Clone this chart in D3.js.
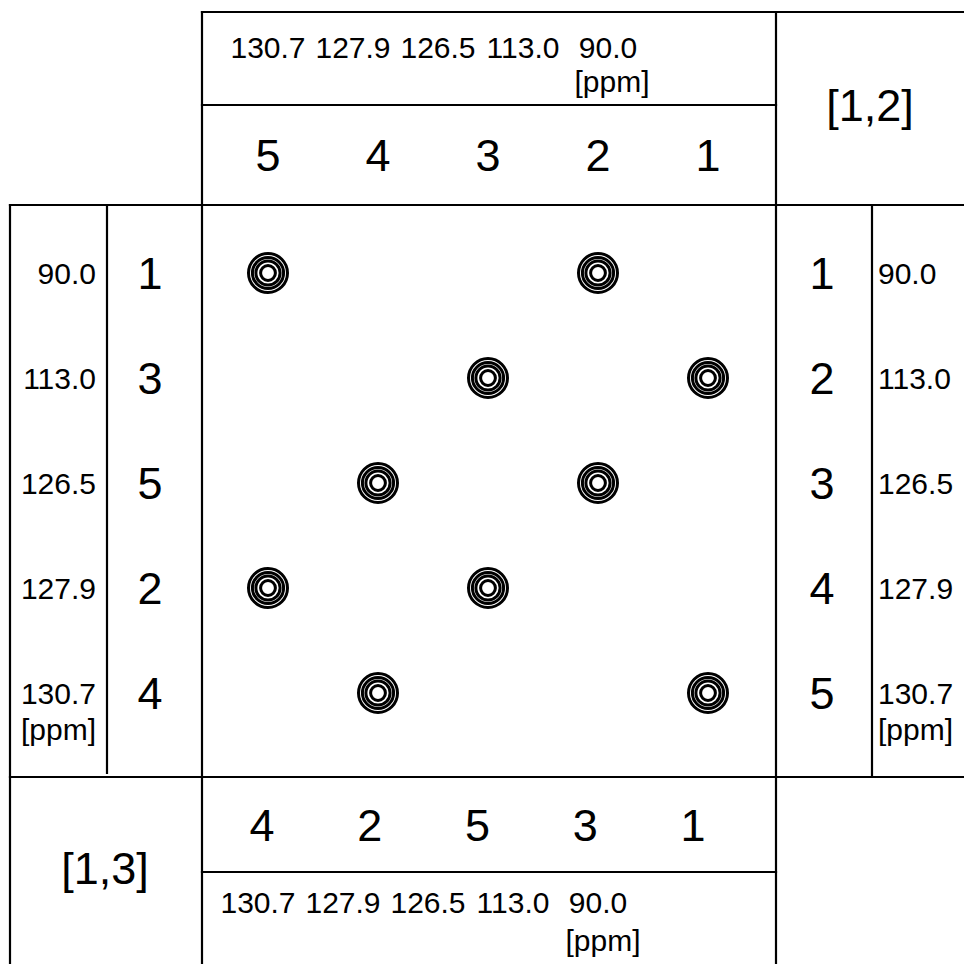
<!DOCTYPE html>
<html>
<head>
<meta charset="utf-8">
<script src="https://cdn.jsdelivr.net/npm/d3@7"></script>
<style>
  html, body { margin: 0; padding: 0; background: #fff; }
  svg { display: block; }
  text { font-family: "Liberation Sans", Arial, Helvetica, sans-serif; fill: #000; }
</style>
</head>
<body>
<svg id="chart" width="964" height="964"></svg>
<script>
// Atom numbering along each axis of the two 2D spectra
const topAtoms    = [5, 4, 3, 2, 1];          // F2 of [1,2]
const rightAtoms  = [1, 2, 3, 4, 5];          // F1 of [1,2]
const leftAtoms   = [1, 3, 5, 2, 4];          // F1 of [1,3]
const bottomAtoms = [4, 2, 5, 3, 1];          // F2 of [1,3]

// Chemical shift tick labels (ppm)
const topShifts    = ["130.7", "127.9", "126.5", "113.0", "90.0"];
const bottomShifts = ["130.7", "127.9", "126.5", "113.0", "90.0"];
const sideShifts   = ["90.0", "113.0", "126.5", "127.9", "130.7"];

// Cross peaks of the [1,2] spectrum: [top atom, right atom]
const peaks = [
  [5, 1], [2, 1],
  [3, 2], [1, 2],
  [4, 3], [2, 3],
  [5, 4], [3, 4],
  [4, 5], [1, 5]
];

// Contour levels drawn for every peak (relative radius)
const contourLevels = [1.0, 0.8, 0.62, 0.38];

const svg = d3.select("#chart");

// Frame geometry
const L0 = 10, L1 = 107, P0 = 202, P1 = 776, R1 = 872, RW = 964;
const T0 = 12, T1 = 105, T2 = 205, B0 = 777, B1 = 872, BH = 964;

// Scales
const colIdx = d3.range(5);
const x = d3.scalePoint().domain(colIdx).range([268, 708]);
const xBottom = d3.scalePoint().domain(colIdx).range([262, 693]);
const xTopPpm = d3.scalePoint().domain(colIdx).range([268, 608]);
const xBotPpm = d3.scalePoint().domain(colIdx).range([258, 598]);
const y = d3.scalePoint().domain(colIdx).range([273, 693]);
const r = d3.scaleLinear().domain([0, 1]).range([0, 19.5]);

// Frame lines
const lines = [
  [P0, T0, RW, T0],       // top edge
  [P0, T0, P0, BH],       // left of main panel
  [P1, T0, P1, BH],       // right of main panel
  [P0, T1, P1, T1],       // header divider
  [L0, T2, RW, T2],       // header bottom
  [L0, T2, L0, BH],       // outer left
  [L1, T2, L1, B0 - 4],   // left divider
  [R1, T2, R1, B0 - 1],   // right divider
  [L0, B0, RW, B0],       // bottom of main panel
  [P0, B1, P1, B1]        // footer divider
];
svg.append("g").selectAll("line").data(lines).join("line")
  .attr("x1", d => d[0]).attr("y1", d => d[1])
  .attr("x2", d => d[2]).attr("y2", d => d[3])
  .attr("stroke", "#000").attr("stroke-width", 2.2)
  .attr("stroke-linecap", "square");

const big = 45, small = 30;

// Top header
svg.append("g").selectAll("text").data(topShifts).join("text")
  .attr("x", (d, i) => xTopPpm(i)).attr("y", 47).attr("dy", "0.36em")
  .attr("text-anchor", "middle").attr("font-size", small).text(d => d);
svg.append("text").attr("x", 612).attr("y", 81).attr("dy", "0.36em")
  .attr("text-anchor", "middle").attr("font-size", small).text("[ppm]");
svg.append("g").selectAll("text").data(topAtoms).join("text")
  .attr("x", (d, i) => x(i)).attr("y", 155).attr("dy", "0.36em")
  .attr("text-anchor", "middle").attr("font-size", big).text(d => d);

// Left side ([1,3] F1)
svg.append("g").selectAll("text").data(sideShifts).join("text")
  .attr("x", 96).attr("y", (d, i) => y(i)).attr("dy", "0.36em")
  .attr("text-anchor", "end").attr("font-size", small).text(d => d);
svg.append("text").attr("x", 96).attr("y", 729).attr("dy", "0.36em")
  .attr("text-anchor", "end").attr("font-size", small).text("[ppm]");
svg.append("g").selectAll("text").data(leftAtoms).join("text")
  .attr("x", 150).attr("y", (d, i) => y(i)).attr("dy", "0.36em")
  .attr("text-anchor", "middle").attr("font-size", big).text(d => d);

// Right side ([1,2] F1)
svg.append("g").selectAll("text").data(rightAtoms).join("text")
  .attr("x", 822).attr("y", (d, i) => y(i)).attr("dy", "0.36em")
  .attr("text-anchor", "middle").attr("font-size", big).text(d => d);
svg.append("g").selectAll("text").data(sideShifts).join("text")
  .attr("x", 878).attr("y", (d, i) => y(i)).attr("dy", "0.36em")
  .attr("text-anchor", "start").attr("font-size", small).text(d => d);
svg.append("text").attr("x", 878).attr("y", 729).attr("dy", "0.36em")
  .attr("text-anchor", "start").attr("font-size", small).text("[ppm]");

// Bottom footer ([1,3] F2)
svg.append("g").selectAll("text").data(bottomAtoms).join("text")
  .attr("x", (d, i) => xBottom(i)).attr("y", 825).attr("dy", "0.36em")
  .attr("text-anchor", "middle").attr("font-size", big).text(d => d);
svg.append("g").selectAll("text").data(bottomShifts).join("text")
  .attr("x", (d, i) => xBotPpm(i)).attr("y", 902).attr("dy", "0.36em")
  .attr("text-anchor", "middle").attr("font-size", small).text(d => d);
svg.append("text").attr("x", 603).attr("y", 940).attr("dy", "0.36em")
  .attr("text-anchor", "middle").attr("font-size", small).text("[ppm]");

// Spectrum labels
svg.append("text").attr("x", 870).attr("y", 105).attr("dy", "0.36em")
  .attr("text-anchor", "middle").attr("font-size", big).text("[1,2]");
svg.append("text").attr("x", 105).attr("y", 868).attr("dy", "0.36em")
  .attr("text-anchor", "middle").attr("font-size", big).text("[1,3]");

// Cross peaks as concentric contours
const peakG = svg.append("g").selectAll("g").data(peaks).join("g")
  .attr("transform", d => `translate(${x(topAtoms.indexOf(d[0]))},${y(rightAtoms.indexOf(d[1]))})`);
peakG.selectAll("circle").data(contourLevels).join("circle")
  .attr("r", d => r(d))
  .attr("fill", "none").attr("stroke", "#000").attr("stroke-width", 3);
</script>
</body>
</html>
